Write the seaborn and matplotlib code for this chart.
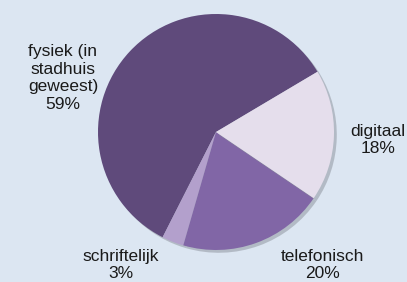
import matplotlib
matplotlib.use("Agg")
import matplotlib.pyplot as plt
import matplotlib.patheffects as pe
import seaborn as sns

categories = ["fysiek (in\nstadhuis\ngeweest)", "schriftelijk", "telefonisch", "digitaal"]
values = [59, 3, 20, 18]
colors = ["#5f4a7b", "#b3a0cc", "#8166a6", "#e5deec"]

sns.set_theme(style="white")
plt.rcParams['font.family'] = ['Liberation Sans', 'DejaVu Sans']

bg = "#dce6f2"
fig = plt.figure(figsize=(4.07, 2.82), dpi=100, facecolor=bg)
ax = fig.add_axes([0, 0, 1, 1])
ax.set_facecolor(bg)

wedges, _ = ax.pie(values, colors=colors, startangle=30.7, counterclock=True,
                   center=(216, 150), radius=118,
                   wedgeprops=dict(linewidth=0,
                                   path_effects=[pe.SimplePatchShadow(offset=(2, -2), shadow_rgbFace="#8a8f99", alpha=0.5),
                                                 pe.Normal()]))
ax.set_xlim(0, 407)
ax.set_ylim(0, 282)
ax.set_aspect("equal")
ax.axis("off")

label_pos = [(63, 204), (121, 17), (322, 17), (378, 142)]
for cat, v, (x, y) in zip(categories, values, label_pos):
    ax.text(x, y, f"{cat}\n{v}%", ha="center", va="center", fontsize=12.5,
            color="#1a1a1a", linespacing=1.2)

fig.savefig("out.png", dpi=100, facecolor=bg)
